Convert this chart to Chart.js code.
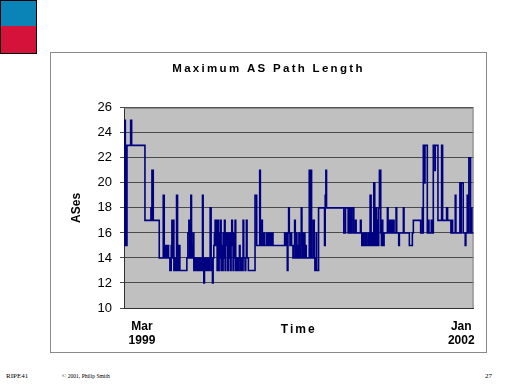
<!DOCTYPE html>
<html><head><meta charset="utf-8">
<script src="https://cdn.jsdelivr.net/npm/chart.js@4/dist/chart.umd.min.js"></script>
<style>
html,body{margin:0;padding:0;background:#fff;width:512px;height:384px;overflow:hidden;position:relative;font-family:"Liberation Sans",Arial,sans-serif}
#blue{position:absolute;left:0;top:0;width:35px;height:25px;background:#0a84b6;border:1px solid #000}
#red{position:absolute;left:0;top:26px;width:35px;height:27px;background:#d4123a;border:1px solid #000;border-top:none}
#frame{position:absolute;left:50px;top:52px;width:435px;height:299px;border:1px solid #8a8a8a}
#frame canvas{display:block}
.foot{position:absolute;font-family:"Liberation Serif","Times New Roman",serif;color:#000;white-space:nowrap}
</style></head>
<body>
<div id="blue"></div><div id="red"></div>
<div id="frame"><canvas id="c" width="435" height="299"></canvas></div>
<div class="foot" style="left:6px;top:372px;font-size:7px">RIPE41</div>
<div class="foot" style="left:62px;top:373px;font-size:5.6px">© 2001, Philip Smith</div>
<div class="foot" style="left:485px;top:372px;font-size:7px">27</div>
<script>
const chartTitle = 'Maximum AS Path Length';
const yTitle = 'ASes';
const xTitle = 'Time';
const tickDays = [54, 1014];
const tickLabels = [['Mar', '1999'], ['Jan', '2002']];
const yTicksMin = 10, yTicksMax = 26, yStep = 2;
// day index (from start of Mar 1999) at which the maximum path length changes
const days = [0,2,3,4,6,7,9,20,23,63,81,83,84,88,106,118,121,123,125,127,129,131,134,138,142,144,146,148,150,153,156,158,161,165,168,189,192,195,197,201,203,
204,206,208,210,212,214,218,220,224,226,230,233,236,238,240,242,244,248,250,254,256,259,262,264,266,268,270,272,274,276,278,280,282,284,286,288,290,292,294,296,298,300,302,304,306,308,310,312,314,316,318,320,322,324,326,328,330,332,334,336,339,341,344,347,349,352,354,358,360,364,366,368,370,374,394,399,408,410,414,416,418,
420,422,428,430,434,436,440,442,446,448,483,485,487,489,491,493,495,497,499,502,504,508,510,513,515,518,520,522,524,526,528,530,533,535,538,540,542,544,546,548,557,559,560,564,569,572,574,578,579,585,603,605,607,609,
661,666,674,676,680,681,684,686,691,696,698,711,713,715,718,720,724,726,729,731,736,738,740,743,745,748,751,754,756,758,760,762,764,766,768,772,774,776,778,780,782,792,794,798,800,804,806,810,812,818,820,826,828,840,842,
858,867,870,892,897,898,900,904,905,912,915,917,924,926,930,935,936,944,955,958,970,973,983,986,988,996,998,1010,1012,1014,1020,1026,1028,1032,1034,1037,1042,1044,1046,1051];
const ases = [25,15,25,15,23,15,23,25,23,17,18,17,21,17,14,19,14,15,14,15,14,15,14,13,15,17,14,17,13,14,13,19,13,15,13,14,16,17,14,19,14,
15,14,16,13,14,13,14,13,14,13,14,13,19,14,12,14,13,14,13,14,13,18,14,13,12,14,15,16,17,15,17,13,17,13,16,14,17,13,15,13,16,14,17,13,16,15,16,13,16,14,16,13,16,17,15,13,16,14,17,13,14,13,14,15,13,14,13,17,14,13,14,17,14,13,19,15,21,15,17,16,15,
16,15,16,15,16,15,16,15,16,15,16,15,16,15,13,16,18,16,15,16,15,14,15,17,14,16,14,15,14,16,14,15,18,14,16,14,16,14,15,14,21,14,21,14,17,14,13,16,13,18,15,19,21,18,
16,18,16,18,16,18,16,18,16,17,16,17,16,15,16,15,16,15,16,15,16,15,19,15,16,15,20,15,16,18,15,17,15,18,21,16,15,17,16,15,16,18,16,17,16,17,16,17,16,18,16,15,16,18,16,
15,16,17,16,18,16,23,20,23,16,17,16,17,16,23,21,23,17,23,17,18,17,16,17,16,19,16,20,16,20,16,15,16,19,16,22,16,18,16,16];

const points = days.map((d, i) => ({x: d, y: ases[i]}));

function spaced(obj, key, ctxGetter, spacing) {
  if (!obj || obj['_sp_' + key]) return;
  const orig = obj[key].bind(obj);
  obj[key] = function(...args) {
    const c = ctxGetter(); const prev = c.letterSpacing;
    c.letterSpacing = spacing; orig(...args); c.letterSpacing = prev || '0px';
  };
  obj['_sp_' + key] = true;
}

const plotBg = {
  id: 'plotBg',
  beforeDraw(chart) {
    const {ctx, chartArea: a} = chart;
    ctx.save();
    ctx.fillStyle = '#c0c0c0';
    ctx.fillRect(a.left, a.top, a.right - a.left, a.bottom - a.top);
    ctx.restore();
    spaced(chart.titleBlock, 'draw', () => chart.ctx, '2.3px');
    spaced(chart.scales.x, 'drawTitle', () => chart.ctx, '2px');
  },
  beforeDatasetsDraw(chart) {
    const {ctx, chartArea: a} = chart;
    ctx.save();
    ctx.strokeStyle = '#808080';
    ctx.lineWidth = 1;
    ctx.beginPath();
    ctx.moveTo(a.left, a.top + 0.5);
    ctx.lineTo(a.right - 0.5, a.top + 0.5);
    ctx.lineTo(a.right - 0.5, a.bottom);
    ctx.stroke();
    ctx.restore();
  }
};

Chart.defaults.font.family = '"Liberation Sans", Arial, sans-serif';
new Chart(document.getElementById('c'), {
  type: 'line',
  data: { datasets: [{
    data: points, borderColor: '#000080', borderWidth: 1.6, pointRadius: 0,
    stepped: true, tension: 0, fill: false
  }]},
  options: {
    responsive: false, animation: false, devicePixelRatio: 1,
    layout: { padding: { left: 12, right: 12, top: 0, bottom: 0 } },
    plugins: {
      legend: { display: false }, tooltip: { enabled: false },
      title: { display: true, text: chartTitle, color: '#000',
        font: { size: 11.5, weight: 'bold' }, padding: { top: 9, bottom: 32 } }
    },
    scales: {
      x: { type: 'linear', min: 0, max: 1051,
        grid: { display: false, drawTicks: false },
        border: { display: true, color: '#303030' },
        afterBuildTicks(s) { s.ticks = tickDays.map(v => ({value: v})); },
        ticks: { autoSkip: false, maxRotation: 0, padding: 11, color: '#000',
          font: { size: 12, weight: 'bold' }, callback: (v, i) => tickLabels[i] },
        title: { display: true, text: xTitle, color: '#000', font: { size: 12, weight: 'bold' },
          padding: { top: 0, bottom: 15 } },
        afterFit(s) { s.height = 44; }
      },
      y: { min: yTicksMin, max: yTicksMax,
        ticks: { stepSize: yStep, color: '#000', font: { size: 13 }, padding: 8 },
        grid: { color: '#4a4a4a', lineWidth: 1, tickLength: 4, drawTicks: true },
        border: { color: '#303030' },
        title: { display: true, text: yTitle, color: '#000', font: { size: 12, weight: 'bold' },
          padding: { top: 6, bottom: 0 } },
        afterFit(s) { s.width = 61; }
      }
    }
  },
  plugins: [plotBg]
});
</script>
</body></html>
